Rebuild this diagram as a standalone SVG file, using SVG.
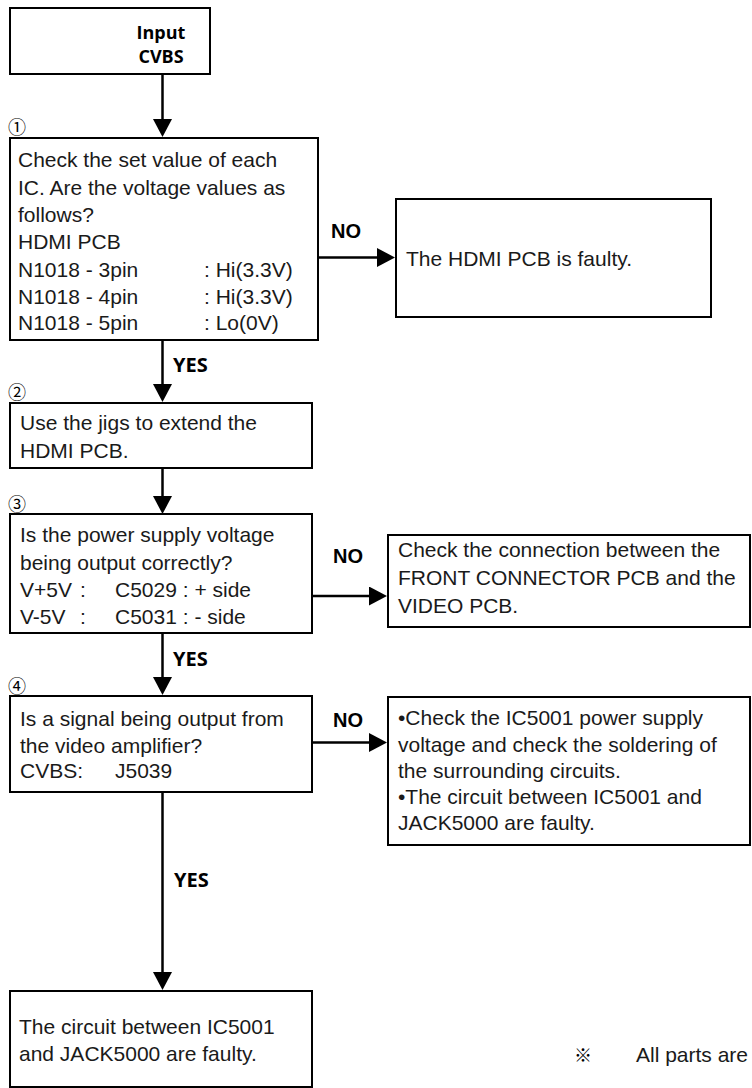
<svg xmlns="http://www.w3.org/2000/svg" width="752" height="1088" viewBox="0 0 752 1088">
<style>
.box{fill:#fff;stroke:#000;stroke-width:2}
.t{font-family:"Liberation Sans",Arial,sans-serif;font-size:21px;fill:#1a1a1a}
.h{font-family:"Open Sans","Noto Sans",sans-serif;font-weight:bold;font-size:18px;fill:#000}
.yes{font-family:"Open Sans","Noto Sans",sans-serif;font-weight:bold;font-size:20px;fill:#000}
.no{font-family:"Liberation Sans",Arial,sans-serif;font-weight:bold;font-size:20px;fill:#000}
.num{font-family:"Noto Sans CJK JP","DejaVu Sans",sans-serif;font-size:18px;fill:#000}
.c{stroke:#000;stroke-width:2.5;fill:none;marker-end:url(#ah)}
</style>
<defs>
<marker id="ah" viewBox="0 0 18 19" refX="0" refY="9.5" markerWidth="18" markerHeight="19" markerUnits="userSpaceOnUse" orient="auto">
<path d="M0,0 L18,9.5 L0,19 z" fill="#000"/>
</marker>
</defs>
<g id="connectors">
<line class="c" x1="162.5" y1="74" x2="162.5" y2="119"/>
<line class="c" x1="318" y1="257.5" x2="377" y2="257.5"/>
<line class="c" x1="162.5" y1="340" x2="162.5" y2="384"/>
<line class="c" x1="162.5" y1="468" x2="162.5" y2="496"/>
<line class="c" x1="312" y1="596" x2="369" y2="596"/>
<line class="c" x1="162.5" y1="633" x2="162.5" y2="677"/>
<line class="c" x1="312" y1="742.5" x2="369" y2="742.5"/>
<line class="c" x1="162.5" y1="792" x2="162.5" y2="972"/>
<text class="no" x="331" y="238">NO</text>
<text class="yes" x="173" y="372">YES</text>
<text class="no" x="333" y="563">NO</text>
<text class="yes" x="173" y="666">YES</text>
<text class="no" x="333" y="727">NO</text>
<text class="yes" x="174" y="887">YES</text>
</g>
<g id="n-input">
<rect class="box" x="10" y="8" width="200" height="66"/>
<text class="h" x="161" y="39" text-anchor="middle">Input</text>
<text class="h" x="161" y="63" text-anchor="middle">CVBS</text>
</g>
<g id="n-step1">
<text class="num" x="8" y="134">①</text>
<rect class="box" x="10" y="138" width="308" height="202"/>
<text class="t" x="18" y="167">Check the set value of each</text>
<text class="t" x="18" y="194.5">IC. Are the voltage values as</text>
<text class="t" x="18" y="222">follows?</text>
<text class="t" x="18" y="249">HDMI PCB</text>
<text class="t" x="18" y="277">N1018 - 3pin<tspan x="204">: Hi(3.3V)</tspan></text>
<text class="t" x="18" y="304">N1018 - 4pin<tspan x="204">: Hi(3.3V)</tspan></text>
<text class="t" x="18" y="330">N1018 - 5pin<tspan x="204">: Lo(0V)</tspan></text>
</g>
<g id="n-hdmi-faulty">
<rect class="box" x="396" y="199" width="315" height="118"/>
<text class="t" x="406" y="266">The HDMI PCB is faulty.</text>
</g>
<g id="n-step2">
<text class="num" x="8" y="399">②</text>
<rect class="box" x="10" y="403" width="302" height="65"/>
<text class="t" x="20" y="430">Use the jigs to extend the</text>
<text class="t" x="20" y="458">HDMI PCB.</text>
</g>
<g id="n-step3">
<text class="num" x="8" y="511">③</text>
<rect class="box" x="10" y="514" width="302" height="119"/>
<text class="t" x="20" y="542">Is the power supply voltage</text>
<text class="t" x="20" y="570">being output correctly?</text>
<text class="t" x="20" y="597">V+5V<tspan x="80">:</tspan><tspan x="115">C5029 : + side</tspan></text>
<text class="t" x="20" y="624">V-5V<tspan x="80">:</tspan><tspan x="115">C5031 :  - side</tspan></text>
</g>
<g id="n-connection">
<rect class="box" x="388" y="535" width="362" height="92"/>
<text class="t" x="398" y="557">Check the connection between the</text>
<text class="t" x="398" y="585">FRONT CONNECTOR PCB and the</text>
<text class="t" x="398" y="612.5">VIDEO PCB.</text>
</g>
<g id="n-step4">
<text class="num" x="8" y="693">④</text>
<rect class="box" x="10" y="696" width="302" height="96"/>
<text class="t" x="20" y="726">Is a signal being output from</text>
<text class="t" x="20" y="753">the video amplifier?</text>
<text class="t" x="20" y="778">CVBS:<tspan x="115">J5039</tspan></text>
</g>
<g id="n-ic5001">
<rect class="box" x="388" y="697" width="362" height="148"/>
<text class="t" x="398" y="725">•Check the IC5001 power supply</text>
<text class="t" x="398" y="751.5">voltage and check the soldering of</text>
<text class="t" x="398" y="777.5">the surrounding circuits.</text>
<text class="t" x="398" y="803.5">•The circuit between IC5001 and</text>
<text class="t" x="398" y="829.5">JACK5000 are faulty.</text>
</g>
<g id="n-result">
<rect class="box" x="10" y="991" width="302" height="96"/>
<text class="t" x="19" y="1034">The circuit between IC5001</text>
<text class="t" x="19" y="1061">and JACK5000 are faulty.</text>
</g>
<g id="note">
<text class="num" x="574" y="1062" font-size="20">※</text>
<text class="t" x="636" y="1062">All parts are</text>
</g>
</svg>
